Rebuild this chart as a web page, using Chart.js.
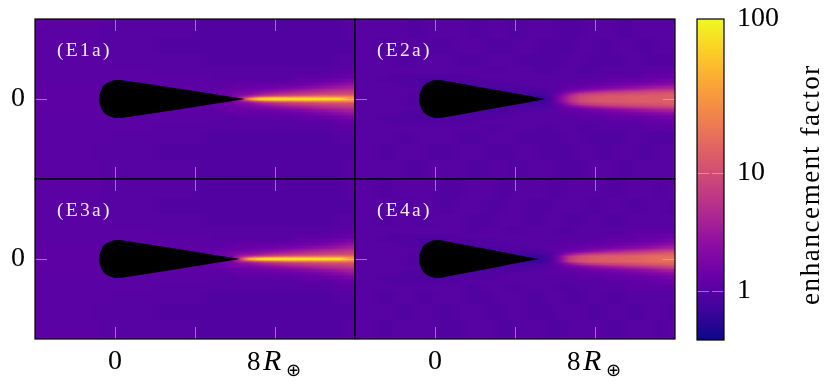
<!DOCTYPE html>
<html>
<head>
<meta charset="utf-8">
<script src="https://cdn.jsdelivr.net/npm/chart.js@4"></script>
<style>
html, body { margin: 0; background: #fff; }
canvas { position: absolute; left: 0; top: 0; }
</style>
</head>
<body>
<canvas id="e1a" width="830" height="387"></canvas>
<canvas id="e2a" width="830" height="387"></canvas>
<canvas id="e3a" width="830" height="387"></canvas>
<canvas id="e4a" width="830" height="387"></canvas>
<canvas id="bar" width="830" height="387"></canvas>
<script>
// column centres and half-plane row edges, in Earth radii
var columnCentres = [-3.75,-3.25,-2.75,-2.25,-1.75,-1.25,-0.75,-0.25,0.25,0.75,1.25,1.75,2.25,2.75,3.25,3.75,4.25,4.75,5.25,5.75,6.25,6.75,7.25,7.75,8.25,8.75,9.25,9.75,10.25,10.75,11.25,11.75];
var rowEdges = [0,0.05,0.1,0.15,0.2,0.3,0.4,0.5,0.65,0.8,1,1.25,1.6,2.25,3,4];

var xTicks = [0, 4, 8];
var yTicks = [0];
var barTicks = [1, 10, 100];

// enhancement factor, rows go from the axis outwards (wake is mirrored about y=0)
var e1aRows = [
[1.1,1.1,1.1,1.1,1.1,1.1,1.1,1.1,1.1,1.1,1.1,1.1,1.1,1.1,1.1,1.1,1.1,1.1,1.2,1.3,3,25,60,68,70,70,70,70,70,70,70,30],
[1.1,1.1,1.1,1.1,1.1,1.1,1.1,1.1,1.1,1.1,1.1,1.1,1.1,1.1,1.1,1.1,1.1,1.1,1.2,1.3,3,8,20,28,30,30,30,30,30,30,30,28],
[1.1,1.1,1.1,1.1,1.1,1.1,1.1,1.1,1.1,1.1,1.1,1.1,1.1,1.1,1.1,1.1,1.1,1.1,1.2,1.4,2.5,4,7,10,12,14,16,17,18,18,18,18],
[1.1,1.1,1.1,1.1,1.1,1.1,1.1,1.1,1.1,1.1,1.1,1.1,1.1,1.1,1.1,1.1,1.1,1.1,1.2,1.4,2.2,3,4.5,6,7.5,8,9,10,12,13,13,13],
[1.1,1.1,1.1,1.1,1.1,1.1,1.1,1.1,1.1,1.1,1.1,1.1,1.1,1.1,1.1,1.1,1.1,1.1,1.3,1.5,1.8,2,3,3.8,4.5,5.5,6,7,8,8,9,9],
[1.1,1.1,1.1,1.1,1.1,1.1,1.1,1.1,1.1,1.1,1.1,1.1,1.1,1.1,1.1,1.1,1.1,1.1,1.3,1.4,1.6,1.7,2.1,2.5,3,3.5,4,4.5,5,6,6.5,7],
[1.1,1.1,1.1,1.1,1.1,1.1,1.1,1.1,1.1,1.1,1.1,1.1,1.1,1.1,1.1,1.1,1.1,1.1,1.2,1.3,1.4,1.5,1.6,1.8,2.1,2.4,2.8,3.2,3.8,4.2,4.6,5],
[1.1,1.1,1.1,1.1,1.1,1.1,1.1,1.1,1.1,1.1,1.1,1.1,1.1,1.1,1.1,1.1,1.1,1.1,1.1,1.2,1.3,1.3,1.4,1.4,1.5,1.6,1.8,2.1,2.4,2.8,3.2,3.6],
[1.05,1.05,1.05,1.05,1.05,1.05,1.05,1.05,1.1,1.1,1.1,1.1,1.1,1.1,1.1,1.1,1.1,1.1,1.1,1.1,1.2,1.2,1.2,1.2,1.3,1.3,1.4,1.5,1.7,1.9,2.2,2.6],
[1.05,1.05,1.05,1.05,1.05,1.05,1.05,1.05,1.05,1.05,1.05,1.05,1.05,1.05,1.05,1.05,1.05,1.05,1.05,1.05,1.1,1.1,1.1,1.1,1.1,1.1,1.2,1.2,1.3,1.4,1.5,1.8],
[1.05,1.05,1.05,1.05,1.05,1.05,1.05,1.05,1.05,1.05,1.05,1.05,1.05,1.05,1.05,1.05,1.05,1.05,1,1,1,1,1,1,1,1,1.1,1.1,1.1,1.1,1.2,1.3],
[1.05,1.05,1.05,1.05,1.05,1.05,1.05,1.05,1.05,1.05,1.05,1.05,1,1,1,1,1,1,1,1,1,1,1,1,1,1,1,1,1,1,1.1,1.1],
[1.05,1.05,1.05,1.05,1.05,1.05,1.05,1.05,1,1,1,1,1,1,1,1,1,0.95,0.95,0.95,0.95,0.95,0.95,0.95,0.95,0.95,0.95,0.95,0.95,0.95,1,1],
[1.05,1.05,1.05,1.05,1.05,1.05,1,1,1,1,1,1,0.95,0.95,0.95,0.95,0.95,0.95,0.95,0.95,0.95,0.95,0.95,0.95,0.95,0.95,0.95,0.95,0.95,0.95,0.95,0.95],
[1.05,1.05,1.05,1.05,1.05,1.05,1.05,1,1,1,1,1,1,1,1,1,0.95,0.95,0.95,0.95,0.95,0.95,0.95,0.95,0.95,0.95,0.95,0.95,0.95,0.95,0.95,1]
];
var e2aRows = [
[1,1,1,1,1,0.95,0.95,0.95,0.95,0.95,0.95,0.95,0.95,0.95,0.95,0.95,0.85,0.75,0.65,0.85,2,5,9,11,12,12,12,13,13,13,13,13],
[1,1,1,1,1,0.95,0.95,0.95,0.95,0.95,0.95,0.95,0.95,0.95,0.95,0.95,0.85,0.75,0.65,0.85,2,5,9,11,12,12,12,13,13,13,13,13],
[1,1,1,1,1,0.95,0.95,0.95,0.95,0.95,0.95,0.95,0.95,0.95,0.95,0.95,0.85,0.75,0.65,0.85,1.9,4.5,8,10,11,12,12,12,13,13,13,13],
[1,1,1,1,1,0.95,0.95,0.95,0.95,0.95,0.95,0.95,0.95,0.95,0.95,0.95,0.85,0.75,0.75,0.9,1.7,4,7,9,10,11,11,12,12,12,13,13],
[1,1,1,1,1,0.95,0.95,0.95,0.95,0.95,0.95,0.95,0.95,0.95,0.95,0.95,0.85,0.75,0.75,0.9,1.4,3,5.5,7,8,9,9,10,10,11,11,12],
[1,1,1,1.05,1,1,0.95,0.95,0.95,0.95,0.95,0.95,0.95,0.95,0.85,0.85,0.85,0.85,0.85,0.9,1.2,1.9,2.8,3.6,4.5,5.5,6,7,7.5,8,8.5,9],
[1.05,1,1,1,1,1,0.95,0.95,0.95,0.95,0.95,0.95,0.95,0.85,0.85,0.85,0.85,0.9,0.9,1,1.1,1.4,1.7,2.1,2.5,3,3.3,3.8,4.3,5,5.5,6],
[1,1,1,1,1,0.95,0.95,0.95,0.95,0.95,0.95,0.85,0.85,0.85,0.85,0.9,0.9,0.9,1,1,1.1,1.2,1.3,1.5,1.6,1.8,2,2.3,2.6,3,3.3,3.6],
[1,1,1,1,0.95,0.95,0.95,0.95,0.85,0.85,0.85,0.85,0.9,0.9,0.9,0.9,1,1,1,1,1.1,1.1,1.1,1.2,1.3,1.4,1.5,1.6,1.7,1.9,2.1,2.3],
[1,1,0.95,0.95,0.95,0.95,0.85,0.85,0.85,0.9,0.9,0.9,0.9,0.9,1,1,1,1,1,1,1,1,1.1,1.1,1.1,1.2,1.2,1.3,1.3,1.4,1.5,1.6],
[1,1,1,0.95,0.95,0.95,0.95,0.95,0.95,0.95,0.95,0.95,1,1,1,1,1,1,1,1,1,1,1,1,1,1.1,1.1,1.1,1.1,1.2,1.2,1.3],
[1,1,1,1,1,1,1,1,1,1,1,1,1,0.95,0.95,1,1,1,0.95,0.95,1,1,0.95,0.95,1,1,1,1,1,1.1,1.1,1.1],
[1,1,1,1,0.95,0.95,1,1,1,1,0.95,0.95,0.95,1,1,1,0.95,0.95,0.95,0.95,0.95,1,1,0.95,0.95,0.95,0.95,1,1,0.95,0.95,0.95],
[1,1,0.95,0.95,1,1,1,0.95,0.95,0.95,1,1,1,0.95,0.95,0.95,1,1,0.95,0.95,0.95,0.95,1,1,0.95,0.95,1,1,0.95,0.95,1,1],
[1,1,1,1,1,0.95,0.95,1,1,1,1,0.95,0.95,1,1,0.95,0.95,1,1,1,0.95,0.95,0.95,1,1,1,0.95,0.95,1,1,1,1]
];
var e3aRows = [
[1.1,1.1,1.1,1.1,1.1,1.1,1.1,1.1,1.1,1.1,1.1,1.1,1.1,1.1,1.1,1.1,1.1,1.2,1.2,1.4,6,40,65,72,75,75,75,75,75,75,75,30],
[1.1,1.1,1.1,1.1,1.1,1.1,1.1,1.1,1.1,1.1,1.1,1.1,1.1,1.1,1.1,1.1,1.1,1.2,1.2,1.4,5,12,18,24,26,28,28,28,28,28,28,26],
[1.1,1.1,1.1,1.1,1.1,1.1,1.1,1.1,1.1,1.1,1.1,1.1,1.1,1.1,1.1,1.1,1.1,1.2,1.3,1.6,3.5,5,8,10,12,14,15,16,17,18,18,16],
[1.1,1.1,1.1,1.1,1.1,1.1,1.1,1.1,1.1,1.1,1.1,1.1,1.1,1.1,1.1,1.1,1.1,1.2,1.3,1.6,2.8,3.5,4.5,6,7,8,9,10,11,12,12,12],
[1.1,1.1,1.1,1.1,1.1,1.1,1.1,1.1,1.1,1.1,1.1,1.1,1.1,1.1,1.1,1.1,1.1,1.2,1.4,1.6,2,2.3,3,3.8,4.5,5,5.5,6.5,7,8,8,9],
[1.1,1.1,1.1,1.1,1.1,1.1,1.1,1.1,1.1,1.1,1.1,1.1,1.1,1.1,1.1,1.1,1.1,1.2,1.3,1.5,1.7,1.8,2.1,2.4,2.8,3.3,3.8,4.3,4.8,5.5,6,7],
[1.1,1.1,1.1,1.1,1.1,1.1,1.1,1.1,1.1,1.1,1.1,1.1,1.1,1.1,1.1,1.1,1.1,1.1,1.2,1.3,1.4,1.5,1.6,1.8,2,2.3,2.7,3,3.5,4,4.5,5],
[1.1,1.1,1.1,1.1,1.1,1.1,1.1,1.1,1.1,1.1,1.1,1.1,1.1,1.1,1.1,1.1,1.1,1.1,1.1,1.2,1.3,1.3,1.4,1.4,1.5,1.6,1.8,2,2.3,2.6,3,3.6],
[1.05,1.05,1.05,1.05,1.05,1.05,1.05,1.05,1.1,1.1,1.1,1.1,1.1,1.1,1.1,1.1,1.1,1.1,1.1,1.1,1.2,1.2,1.2,1.2,1.3,1.3,1.4,1.5,1.6,1.8,2.1,2.6],
[1.05,1.05,1.05,1.05,1.05,1.05,1.05,1.05,1.05,1.05,1.05,1.05,1.05,1.05,1.05,1.05,1.05,1.05,1.05,1.05,1.1,1.1,1.1,1.1,1.1,1.1,1.2,1.2,1.3,1.4,1.5,1.8],
[1.05,1.05,1.05,1.05,1.05,1.05,1.05,1.05,1.05,1.05,1.05,1.05,1.05,1.05,1.05,1.05,1.05,1.05,1,1,1,1,1,1,1,1,1.1,1.1,1.1,1.1,1.2,1.3],
[1.05,1.05,1.05,1.05,1.05,1.05,1.05,1.05,1.05,1.05,1.05,1.05,1,1,1,1,1,1,1,1,1,1,1,1,1,1,1,1,1,1,1.1,1.1],
[1.05,1.05,1.05,1.05,1.05,1.05,1.05,1.05,1,1,1,1,1,1,1,1,1,0.95,0.95,0.95,0.95,0.95,0.95,0.95,0.95,0.95,0.95,0.95,0.95,0.95,1,1],
[1.05,1.05,1.05,1.05,1.05,1.05,1,1,1,1,1,1,0.95,0.95,0.95,0.95,0.95,0.95,0.95,0.95,0.95,0.95,0.95,0.95,0.95,0.95,0.95,0.95,0.95,0.95,0.95,0.95],
[1.05,1.05,1.05,1.05,1.05,1.05,1.05,1,1,1,1,1,1,1,1,1,0.95,0.95,0.95,0.95,0.95,0.95,0.95,0.95,0.95,0.95,0.95,0.95,0.95,0.95,0.95,1]
];
var e4aRows = [
[1,1,1,1,1,0.95,0.95,0.95,0.95,0.95,0.95,0.95,0.95,0.95,0.95,0.95,0.75,0.65,0.65,0.85,2,7,10,12,13,13,14,14,15,16,17,17],
[1,1,1,1,1,0.95,0.95,0.95,0.95,0.95,0.95,0.95,0.95,0.95,0.95,0.95,0.75,0.65,0.65,0.85,2,7,10,12,13,13,14,14,15,16,17,17],
[1,1,1,1,1,0.95,0.95,0.95,0.95,0.95,0.95,0.95,0.95,0.95,0.95,0.95,0.75,0.65,0.65,0.85,1.9,6,9,11,12,13,13,14,14,15,16,16],
[1,1,1,1,1,0.95,0.95,0.95,0.95,0.95,0.95,0.95,0.95,0.95,0.95,0.85,0.75,0.75,0.75,0.9,1.7,4,7,9,10,11,11,12,13,14,15,15],
[1,1,1,1,1,0.95,0.95,0.95,0.95,0.95,0.95,0.95,0.95,0.95,0.85,0.85,0.75,0.75,0.85,0.9,1.4,2.5,4,5.5,6.5,7.5,8,9,10,11,12,13],
[1,1,1.05,1.05,1,1,0.95,0.95,0.95,0.95,0.95,0.95,0.95,0.85,0.85,0.85,0.85,0.85,0.9,1,1.2,1.6,2,2.6,3.2,4,4.5,5.5,6,7,8,9],
[1.05,1,1,1,1,1,0.95,0.95,0.95,0.95,0.95,0.85,0.85,0.85,0.85,0.9,0.9,0.9,0.9,1,1.1,1.3,1.5,1.8,2.1,2.4,2.8,3.2,3.6,4.2,5,6],
[1,1,1,1,1,0.95,0.95,0.95,0.95,0.85,0.85,0.85,0.85,0.85,0.9,0.9,0.9,1,1,1.1,1.1,1.2,1.3,1.4,1.5,1.6,1.8,2,2.2,2.5,3,3.5],
[1,1,1,1,0.95,0.95,0.95,0.85,0.85,0.85,0.85,0.9,0.9,0.9,0.9,1,1,1,1,1.1,1.1,1.1,1.1,1.2,1.2,1.3,1.4,1.5,1.6,1.8,2,2.3],
[1,1,0.95,0.95,0.95,0.95,0.85,0.85,0.85,0.9,0.9,0.9,0.9,0.9,1,1,1,1,1,1,1,1,1.1,1.1,1.1,1.2,1.2,1.2,1.3,1.4,1.5,1.7],
[1,1,1,0.95,0.95,0.95,0.95,0.95,0.95,0.95,0.95,1,1,1,1,1,1,1,1,1,1,1,1,1,1,1.1,1.1,1.1,1.2,1.2,1.3,1.4],
[1,1,1,1,1,1,1,1,1,1,1,0.95,0.95,1,1,0.95,0.95,1,1,1,0.95,0.95,1,1,1,1,1,1.1,1.1,1.1,1.1,1.1],
[1,1,0.95,0.95,1,1,0.95,0.95,1,1,1,0.95,0.95,0.95,1,1,1,0.95,0.95,1,1,0.95,0.95,1,1,0.95,0.95,1,1,1,1,1],
[1,1,1,1,0.95,0.95,1,1,0.95,0.95,1,1,1,0.95,0.95,1,1,0.95,0.95,0.95,1,1,1,0.95,0.95,1,1,0.95,0.95,1,1,0.95],
[1,1,0.95,0.95,1,1,1,1,0.95,0.95,0.95,1,1,1,0.95,0.95,1,1,1,0.95,0.95,1,1,1,1,0.95,0.95,1,1,1,0.95,1]
];

// outline of the shadow (black, no data), x and half width in Earth radii
var e1aShadowX = [-0.8,-0.78,-0.72,-0.65,-0.55,-0.4,-0.25,0,0.25,1,3,5,6.5];
var e1aShadowY = [0,0.2,0.4,0.55,0.7,0.8,0.88,0.95,0.95,0.85,0.55,0.24,0];
var e2aShadowX = [-0.8,-0.78,-0.72,-0.65,-0.55,-0.4,-0.25,0,0.25,1,3,4.5,5.5];
var e2aShadowY = [0,0.2,0.4,0.55,0.7,0.8,0.88,0.95,0.95,0.82,0.46,0.2,0];
var e3aShadowX = [-0.8,-0.78,-0.72,-0.65,-0.55,-0.4,-0.25,0,0.25,1,3,5,6.25];
var e3aShadowY = [0,0.2,0.4,0.55,0.7,0.8,0.88,0.95,0.95,0.84,0.52,0.2,0];
var e4aShadowX = [-0.8,-0.78,-0.72,-0.65,-0.55,-0.4,-0.25,0,0.25,1,3,4.5,5.2];
var e4aShadowY = [0,0.2,0.4,0.55,0.7,0.8,0.88,0.95,0.95,0.8,0.42,0.13,0];

var plasma = ["#0d0887","#41049d","#6a00a8","#8f0da4","#b12a90","#cc4778","#e16462","#f1844b","#fca636","#fcce25","#f0f921"];

// position of a factor on the colour bar (0 bottom, 1 top)
function levelOf(v){
    var d = Math.log10(v);
    var l = d <= 1 ? 0.153 + 0.367 * d : 0.52 + 0.48 * (d - 1);
    return Math.max(0, Math.min(1, l));
}
function colourAt(l){
    var p = l * (plasma.length - 1), i = Math.min(Math.floor(p), plasma.length - 2), t = p - i;
    var a = parseInt(plasma[i].slice(1), 16), b = parseInt(plasma[i + 1].slice(1), 16);
    var mix = function(s){ return Math.round(((a >> s) & 255) * (1 - t) + ((b >> s) & 255) * t); };
    return "rgb(" + mix(16) + "," + mix(8) + "," + mix(0) + ")";
}

// shade a cell across its width so neighbouring columns do not show steps
function cellFill(row){
    return function(c){
        var i = c.dataIndex;
        if (i === undefined) return colourAt(levelOf(row[0]));
        var here = levelOf(row[i]);
        if (!c.chart.chartArea) return colourAt(here);
        var s = c.chart.scales.x;
        var prev = levelOf(row[Math.max(i - 1, 0)]), next = levelOf(row[Math.min(i + 1, row.length - 1)]);
        var g = c.chart.ctx.createLinearGradient(s.getPixelForValue(columnCentres[i] - 0.25), 0, s.getPixelForValue(columnCentres[i] + 0.25), 0);
        g.addColorStop(0, colourAt((prev + here) / 2));
        g.addColorStop(0.5, colourAt(here));
        g.addColorStop(1, colourAt((here + next) / 2));
        return g;
    };
}

var serif = "'Liberation Serif', serif";
var inkTick = "rgba(205,205,205,0.55)";

function drawMark(ctx, x0, y0, x1, y1){
    ctx.beginPath();
    ctx.moveTo(x0, y0);
    ctx.lineTo(x1, y1);
    ctx.stroke();
}
function noOverhang(s){
    s.paddingTop = 0;
    s.paddingBottom = 0;
    s.paddingLeft = 0;
    s.paddingRight = 0;
}

// frame, inward ticks, panel name, 8R label
var panelDecor = {
    id: "panelDecor",
    afterDraw: function(chart){
        var c = chart.ctx, a = chart.chartArea, cfg = chart.options.plugins.panelDecor;
        c.save();
        c.strokeStyle = inkTick;
        c.lineWidth = 1;
        xTicks.forEach(function(v){
            var x = Math.round(chart.scales.x.getPixelForValue(v)) + 0.5;
            drawMark(c, x, a.top, x, a.top + 12);
            drawMark(c, x, a.bottom - 12, x, a.bottom);
        });
        yTicks.forEach(function(v){
            var y = Math.round(chart.scales.y.getPixelForValue(v)) + 0.5;
            drawMark(c, a.left, y, a.left + 12, y);
            drawMark(c, a.right - 12, y, a.right, y);
        });
        c.strokeStyle = "#000";
        c.lineWidth = 1.2;
        c.strokeRect(a.left, a.top, a.right - a.left, a.bottom - a.top);
        c.fillStyle = "rgba(255,255,255,0.92)";
        c.font = "19.5px " + serif;
        c.letterSpacing = "2.3px";
        c.textBaseline = "alphabetic";
        c.fillText(cfg.name, a.left + 22, a.top + 37);
        c.letterSpacing = "0px";
        if (cfg.showX) {
            var x8 = chart.scales.x.getPixelForValue(8);
            c.fillStyle = "#000";
            c.font = "27px " + serif;
            c.fillText("8", x8 - 28, 370);
            c.font = "italic 30px " + serif;
            c.fillText("R", x8 - 12, 370);
            c.font = "18px 'DejaVu Sans'";
            c.fillText("\u2295", x8 + 11, 376);
        }
        c.restore();
    }
};

function makePanel(id, name, rows, shadowX, shadowY, box, showX, showY){
    var datasets = [];
    rows.forEach(function(row, r){
        [1, -1].forEach(function(side){
            var lo = rowEdges[r], hi = rowEdges[r + 1];
            datasets.push({
                type: "bar",
                grouped: false,
                order: 1,
                barThickness: 10,
                borderWidth: 0,
                data: columnCentres.map(function(x){ return { x: x, y: side > 0 ? [lo, hi] : [-hi, -lo] }; }),
                backgroundColor: cellFill(row)
            });
        });
    });
    [1, -1].forEach(function(side){
        datasets.push({
            type: "line",
            order: 0,
            data: shadowX.map(function(x, i){ return { x: x, y: side * shadowY[i] }; }),
            fill: "origin",
            backgroundColor: "#000",
            borderWidth: 0,
            pointRadius: 0,
            tension: 0
        });
    });
    return new Chart(document.getElementById(id), {
        type: "bar",
        data: { datasets: datasets },
        plugins: [panelDecor],
        options: {
            responsive: false,
            animation: false,
            layout: { padding: { left: 0, top: box[1], right: 830 - box[2], bottom: 0 } },
            plugins: {
                legend: { display: false },
                tooltip: { enabled: false },
                panelDecor: { name: name, showX: showX }
            },
            scales: {
                x: {
                    type: "linear", min: -4, max: 12, offset: false,
                    afterBuildTicks: function(s){ s.ticks = xTicks.map(function(v){ return { value: v }; }); },
                    afterFit: function(s){ s.height = 387 - box[3]; noOverhang(s); },
                    grid: { display: false, drawTicks: false },
                    border: { display: false },
                    ticks: {
                        display: showX,
                        autoSkip: false,
                        maxRotation: 0,
                        padding: 6,
                        color: "#000",
                        font: { family: serif, size: 28 },
                        callback: function(v){ return v === 0 ? "0" : ""; }
                    }
                },
                y: {
                    type: "linear", min: -4, max: 4,
                    afterBuildTicks: function(s){ s.ticks = yTicks.map(function(v){ return { value: v }; }); },
                    afterFit: function(s){ s.width = box[0]; noOverhang(s); },
                    grid: { display: false, drawTicks: false },
                    border: { display: false },
                    ticks: {
                        display: showY,
                        padding: 10,
                        color: "#000",
                        font: { family: serif, size: 28 },
                        callback: function(v){ return String(v); }
                    }
                }
            }
        }
    });
}

makePanel("e1a", "(E1a)", e1aRows, e1aShadowX, e1aShadowY, [35, 19, 355, 179], false, true);
makePanel("e2a", "(E2a)", e2aRows, e2aShadowX, e2aShadowY, [355, 19, 675, 179], false, false);
makePanel("e3a", "(E3a)", e3aRows, e3aShadowX, e3aShadowY, [35, 179, 355, 339], true, true);
makePanel("e4a", "(E4a)", e4aRows, e4aShadowX, e4aShadowY, [355, 179, 675, 339], true, false);

// colour bar
new Chart(document.getElementById("bar"), {
    type: "bar",
    data: {
        labels: [""],
        datasets: [{
            data: [[0, 1]],
            barPercentage: 1,
            categoryPercentage: 1,
            borderWidth: 0,
            backgroundColor: function(c){
                if (!c.chart.chartArea) return plasma[0];
                var s = c.chart.scales.y;
                var g = c.chart.ctx.createLinearGradient(0, s.getPixelForValue(0), 0, s.getPixelForValue(1));
                plasma.forEach(function(col, i){ g.addColorStop(i / (plasma.length - 1), col); });
                return g;
            }
        }]
    },
    plugins: [{
        id: "barDecor",
        afterDraw: function(chart){
            var c = chart.ctx, a = chart.chartArea;
            c.save();
            c.strokeStyle = inkTick;
            c.lineWidth = 1;
            barTicks.slice(0, 2).forEach(function(v){
                var y = Math.round(chart.scales.y.getPixelForValue(levelOf(v))) + 0.5;
                drawMark(c, a.left, y, a.left + 12, y);
                drawMark(c, a.right - 12, y, a.right, y);
            });
            c.strokeStyle = "#000";
            c.lineWidth = 1.2;
            c.strokeRect(a.left, a.top, a.right - a.left, a.bottom - a.top);
            c.translate(819, (a.top + a.bottom) / 2 + 5);
            c.rotate(-Math.PI / 2);
            c.fillStyle = "#000";
            c.font = "27px " + serif;
            c.letterSpacing = "1.6px";
            c.textAlign = "center";
            c.fillText("enhancement factor", 0, 0);
            c.restore();
        }
    }],
    options: {
        responsive: false,
        animation: false,
        layout: { padding: { left: 697, top: 19, right: 0, bottom: 47 } },
        plugins: { legend: { display: false }, tooltip: { enabled: false } },
        scales: {
            x: { display: false },
            y: {
                position: "right",
                min: 0, max: 1,
                afterFit: function(s){ s.width = 106; noOverhang(s); },
                afterBuildTicks: function(s){ s.ticks = barTicks.map(function(v){ return { value: levelOf(v) }; }); },
                grid: { display: false, drawTicks: false },
                border: { display: false },
                ticks: {
                    autoSkip: false,
                    padding: 13,
                    color: "#000",
                    font: { family: serif, size: 28 },
                    callback: function(v, i){ return String(barTicks[i]); }
                }
            }
        }
    }
});
</script>
</body>
</html>
